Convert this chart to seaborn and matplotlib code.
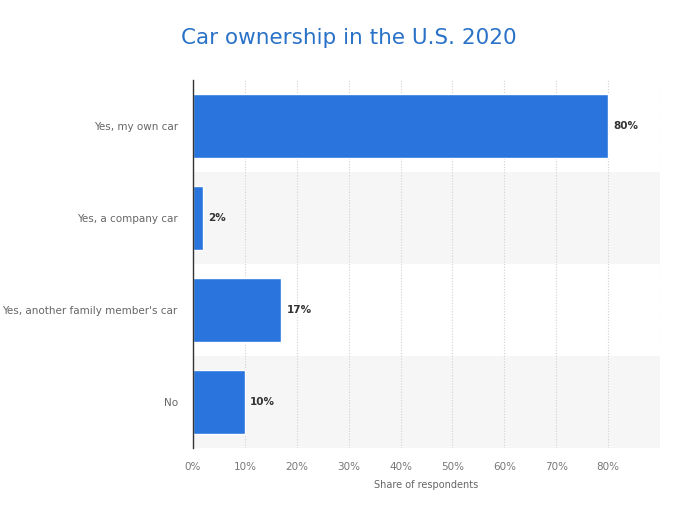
import matplotlib
matplotlib.use("Agg")
import matplotlib.pyplot as plt
import seaborn as sns
import pandas as pd

categories = ["Yes, my own car", "Yes, a company car", "Yes, another family member's car", "No"]
values = [80, 2, 17, 10]
xticks = [0, 10, 20, 30, 40, 50, 60, 70, 80]
xtick_labels = ["0%", "10%", "20%", "30%", "40%", "50%", "60%", "70%", "80%"]

df = pd.DataFrame({"category": categories, "value": values})

sns.set_style("white")
plt.rcParams['font.family'] = ['DejaVu Sans']

fig = plt.figure(figsize=(6.96, 5.15), dpi=100)
ax = fig.add_axes([193/696, 1 - 448/515, (660 - 193)/696, (448 - 80)/515])

for i in range(len(categories)):
    if i % 2 == 1:
        ax.axhspan(i - 0.5, i + 0.5, color="#f6f6f6", zorder=0, lw=0)

sns.barplot(data=df, x="value", y="category", orient="h", color="#2975dd",
            width=0.7, saturation=1, ax=ax, zorder=3)

ax.set_xlim(0, 90)
ax.set_ylim(len(categories) - 0.5, -0.5)
ax.set_xticks(xticks + [90])
ax.set_xticklabels(xtick_labels + [""])
ax.tick_params(axis="x", length=0, labelsize=7.5, labelcolor="#777777", pad=10)
ax.tick_params(axis="y", length=0, labelsize=7.5, labelcolor="#666666", pad=11)
ax.xaxis.grid(True, linestyle=(0, (1, 1.5)), color="#d2d2d2", linewidth=0.8, zorder=1)
ax.set_axisbelow(True)
for s in ["top", "right", "bottom"]:
    ax.spines[s].set_visible(False)
ax.spines["left"].set_color("#333333")
ax.spines["left"].set_linewidth(1.0)
ax.spines["left"].set_zorder(5)

ax.set_ylabel("")
ax.set_xlabel("Share of respondents", fontsize=7, color="#666666", labelpad=6)

for i, v in enumerate(values):
    ax.text(v + 1.0, i, f"{v}%", va="center", ha="left", fontsize=7.5,
            fontweight="bold", color="#333333", zorder=6)

fig.text(349/696, 1 - 38/515, "Car ownership in the U.S. 2020", ha="center", va="center",
         fontsize=15.5, color="#2a72c8")

fig.savefig("out.png", dpi=100)
